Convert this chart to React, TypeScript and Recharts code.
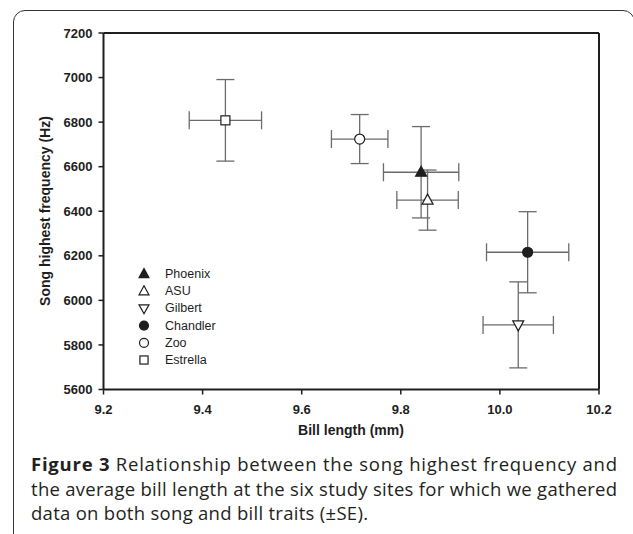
import React from 'react';
import { ScatterChart, Scatter, XAxis, YAxis, ErrorBar, ReferenceLine, Legend, Label } from 'recharts';

// values (mean ± SE per site)
const sites = ['Phoenix', 'ASU', 'Gilbert', 'Chandler', 'Zoo', 'Estrella'];
const billLength = [9.841, 9.854, 10.037, 10.056, 9.717, 9.446];
const billSE = [0.076, 0.062, 0.071, 0.083, 0.057, 0.073];
const songFreq = [6575, 6450, 5890, 6216, 6724, 6808];
const songSE = [205, 135, 193, 182, 110, 183];

const xTicks = [9.2, 9.4, 9.6, 9.8, 10.0, 10.2];
const yTicks = [5600, 5800, 6000, 6200, 6400, 6600, 6800, 7000, 7200];

type Kind = 'triUpFilled' | 'triUp' | 'triDown' | 'circleFilled' | 'circle' | 'square';
const markerOf: Record<string, Kind> = {
    Phoenix: 'triUpFilled',
    ASU: 'triUp',
    Gilbert: 'triDown',
    Chandler: 'circleFilled',
    Zoo: 'circle',
    Estrella: 'square',
};

const INK = '#1e1e1e';
const BAR = '#6b6b6b';

const Marker = ({ kind, cx, cy, s = 1 }: { kind: Kind; cx: number; cy: number; s?: number }) => {
    const filled = kind === 'triUpFilled' || kind === 'circleFilled';
    const fill = filled ? INK : '#fff';
    const common = { fill, stroke: INK, strokeWidth: 1.2 };
    if (kind === 'triUpFilled' || kind === 'triUp') {
        const pts = `${cx},${cy - 6 * s} ${cx - 5.5 * s},${cy + 4 * s} ${cx + 5.5 * s},${cy + 4 * s}`;
        return <polygon points={pts} {...common} />;
    }
    if (kind === 'triDown') {
        const pts = `${cx},${cy + 6 * s} ${cx - 5.5 * s},${cy - 4 * s} ${cx + 5.5 * s},${cy - 4 * s}`;
        return <polygon points={pts} {...common} />;
    }
    if (kind === 'square') {
        return <rect x={cx - 4.5 * s} y={cy - 4.5 * s} width={9 * s} height={9 * s} {...common} />;
    }
    return <circle cx={cx} cy={cy} r={5 * s} {...common} />;
};

const renderLegend = (props: any) => {
    // keep the order of the original key, not alphabetical
    const payload = [...(props.payload || [])].sort(
        (a: any, b: any) => sites.indexOf(a.value) - sites.indexOf(b.value)
    );
    return (
        <svg width={130} height={110} style={{ overflow: 'visible' }}>
            {payload.map((entry: any, i: number) => {
                const y = 8 + i * 17.2;
                return (
                    <g key={entry.value}>
                        <Marker kind={markerOf[entry.value]} cx={8} cy={y} s={0.9} />
                        <text x={29} y={y} dominantBaseline="central" fontSize={12.5} fill={INK}
                            fontFamily="'Liberation Sans', Arial, sans-serif">
                            {entry.value}
                        </text>
                    </g>
                );
            })}
        </svg>
    );
};

const tickStyle = { fontSize: 13, fontWeight: 700, fill: INK, fontFamily: "'Liberation Sans', Arial, sans-serif" };

const SongBillChart: React.FC = () => {
    return (
        <ScatterChart width={633} height={440} margin={{ top: 33, right: 34, left: 0, bottom: 0 }}>
            <XAxis
                type="number"
                dataKey="x"
                domain={[9.2, 10.2]}
                ticks={xTicks}
                tickFormatter={(v) => Number(v).toFixed(1)}
                height={50.5}
                tickSize={5}
                tickMargin={10}
                tick={tickStyle}
                axisLine={{ stroke: INK, strokeWidth: 2 }}
                tickLine={{ stroke: INK, strokeWidth: 1.5 }}
                allowDataOverflow
            >
                <Label content={() => (
                    <text x={351} y={430} textAnchor="middle" dominantBaseline="central"
                        style={{ ...tickStyle, fontSize: 14 }}>
                        Bill length (mm)
                    </text>
                )} />
            </XAxis>
            <YAxis
                type="number"
                dataKey="y"
                domain={[5600, 7200]}
                ticks={yTicks}
                width={103.5}
                tickSize={5}
                tickMargin={6}
                tick={tickStyle}
                axisLine={{ stroke: INK, strokeWidth: 2 }}
                tickLine={{ stroke: INK, strokeWidth: 1.5 }}
                allowDataOverflow
            >
                <Label content={() => (
                    <text x={45} y={211} transform="rotate(-90 45 211)" textAnchor="middle"
                        dominantBaseline="central" style={{ ...tickStyle, fontSize: 14 }}>
                        Song highest frequency (Hz)
                    </text>
                )} />
            </YAxis>
            <ReferenceLine y={7200} stroke={INK} strokeWidth={2} />
            <ReferenceLine x={10.2} stroke={INK} strokeWidth={2} />
            <Legend
                layout="vertical"
                align="center"
                verticalAlign="middle"
                content={renderLegend}
                wrapperStyle={{ left: 136, top: 266, width: 130, height: 110 }}
            />
            {sites.map((name, i) => (
                <Scatter
                    key={name}
                    name={name}
                    data={[{ x: billLength[i], y: songFreq[i], ex: billSE[i], ey: songSE[i] }]}
                    isAnimationActive={false}
                    shape={(p: any) => <Marker kind={markerOf[name]} cx={p.cx} cy={p.cy} />}
                >
                    <ErrorBar dataKey="ex" direction="x" width={9} stroke={BAR} strokeWidth={1.3} isAnimationActive={false} />
                    <ErrorBar dataKey="ey" direction="y" width={9} stroke={BAR} strokeWidth={1.3} isAnimationActive={false} />
                </Scatter>
            ))}
        </ScatterChart>
    );
};

const captionFont = {
    fontFamily: "'Open Sans', 'Noto Sans', sans-serif",
    fontSize: 18.5,
    fill: '#231f20',
};

const Caption: React.FC = () => (
    <svg width={633} height={534} style={{ position: 'absolute', left: 0, top: 0, pointerEvents: 'none' }}>
        <text x={31} y={470.5} textLength={586} lengthAdjust="spacing" {...captionFont}>
            <tspan fontWeight={700}>Figure 3</tspan> Relationship between the song highest frequency and
        </text>
        <text x={31} y={495.5} textLength={586} lengthAdjust="spacing" {...captionFont}>
            the average bill length at the six study sites for which we gathered
        </text>
        <text x={31} y={519.5} textLength={337} lengthAdjust="spacing" {...captionFont}>
            data on both song and bill traits (±SE).
        </text>
    </svg>
);

export default function App() {
    return (
        <div style={{ position: 'absolute', left: 0, top: 0, width: 633, height: 534, overflow: 'hidden', background: '#fff' }}>
            <div style={{
                position: 'absolute', left: 13, top: 10, width: 622, height: 540,
                border: '1.5px solid #333', borderRadius: 12, boxSizing: 'border-box',
            }} />
            <div style={{ position: 'absolute', left: 0, top: 0 }}>
                <SongBillChart />
            </div>
            <Caption />
        </div>
    );
}
